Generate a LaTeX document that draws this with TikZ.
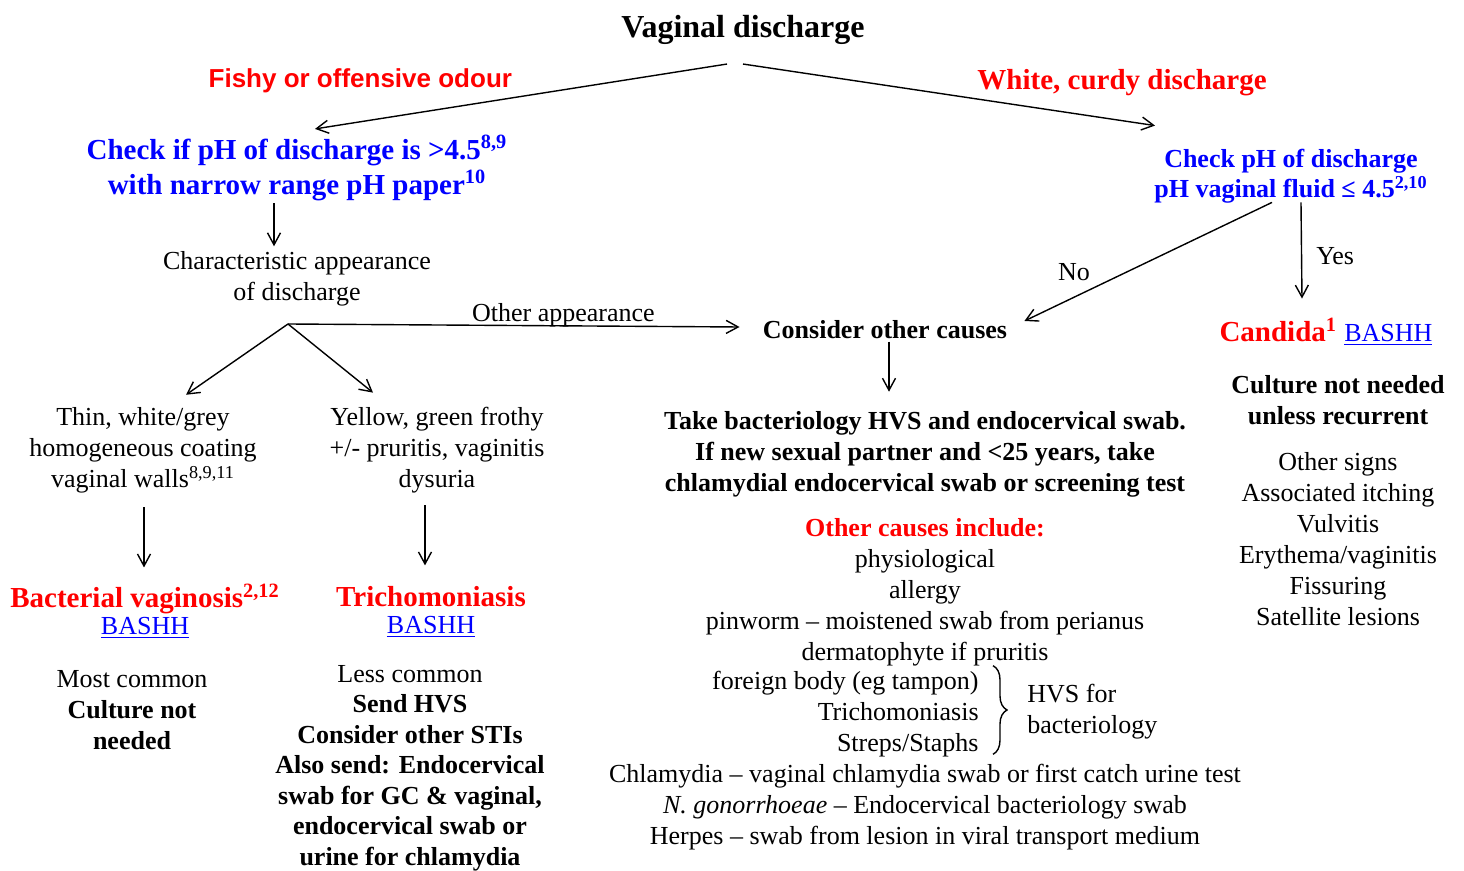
\documentclass[tikz,border=0pt]{standalone}
\usepackage{fontspec}
\setmainfont{Liberation Serif}
\newfontfamily\arialfont{Liberation Sans}
\usetikzlibrary{arrows.meta,decorations.pathreplacing}
\definecolor{hdred}{RGB}{255,0,0}
\definecolor{phblue}{RGB}{0,0,255}
\newcommand{\bashh}{{\mdseries\color{phblue}\underline{BASHH}}}
\tikzset{
	txt/.style={inner sep=0,align=center,font=\fontsize{13}{15.5}\selectfont},
	boldtxt/.style={inner sep=0,align=center,font=\fontsize{13}{15.5}\selectfont\bfseries},
	diag/.style={inner sep=0,align=center,text=hdred,font=\fontsize{14.5}{17}\selectfont\bfseries},
	phtxt/.style={inner sep=0,align=center,text=phblue,font=\fontsize{13}{15}\selectfont\bfseries},
	arr/.style={-{Straight Barb[length=6pt,width=6.5pt]},line width=0.7pt},
}
\begin{document}
\begin{tikzpicture}[x=0.5pt,y=-0.5pt]
		\useasboundingbox (0,0) rectangle (1464,871);
		% top of the chart
		\node[inner sep=0,font=\fontsize{16}{19}\selectfont\bfseries] (title) at (743,30) {Vaginal discharge};
		\node[phtxt,font=\fontsize{14.5}{17.5}\selectfont\bfseries] (phleft) at (297,168) {Check if pH of discharge is >4.5\textsuperscript{8,9}\\with narrow range pH paper\textsuperscript{10}};
		\node[phtxt] (phright) at (1291,176) {Check pH of discharge\\pH vaginal fluid ≤ 4.5\textsuperscript{2,10}};
		\draw[arr] ([shift={(-16,19)}]title.south) -- ([shift={(18,-6)}]phleft.north)
			node[pos=.89,yshift=20.5pt,inner sep=0,text=hdred,font=\arialfont\fontsize{13}{15.5}\selectfont\bfseries] (fishy) {Fishy or offensive odour};
		\draw[arr] ([shift={(0,19)}]title.south) -- ([shift={(-136,-23)}]phright.north)
			node[pos=.92,yshift=19pt,diag] (curdy) {White, curdy discharge};
		% left branch
		\node[txt] (charapp) at (297,279) {Characteristic appearance\\of discharge};
		\coordinate (fork) at (288,324);
		\node[txt] (thin) at (143,450) {Thin, white/grey\\homogeneous coating\\vaginal walls\textsuperscript{8,9,11}};
		\node[txt] (yellow) at (437,450) {Yellow, green frothy\\+/- pruritis, vaginitis\\dysuria};
		\node[diag] (bv) at (145,599) {Bacterial vaginosis\textsuperscript{2,12}};
		\node[txt] (bvlink) at (145,628) {\bashh};
		\node[diag] (tri) at (431,597) {Trichomoniasis};
		\node[txt] (trilink) at (431,627) {\bashh};
		\node[txt] (bvnote) at (132,710) {Most common\\\textbf{Culture not}\\\textbf{needed}};
		\node[boldtxt,font=\fontsize{13}{15.25}\selectfont\bfseries] (trinote) at (410,768) {{\mdseries Less common}\\Send HVS\\Consider other STIs\\Also send: Endocervical\\swab for GC \& vaginal,\\endocervical swab or\\urine for chlamydia};
		\draw[arr] ([shift={(-23,2)}]phleft.south) -- ([shift={(-23,-5)}]charapp.north);
		\draw[arr] (fork) -- ([shift={(43,-12)}]thin.north);
		\draw[arr] (fork) -- ([shift={(-64,-14)}]yellow.north);
		\draw[arr] ([shift={(1,14)}]thin.south) -- ([shift={(-1,-16)}]bv.north);
		\draw[arr] ([shift={(-12,12)}]yellow.south) -- ([shift={(-6,-21)}]tri.north);
		% middle
		\node[boldtxt] (consider) at (885,330) {Consider other causes};
		\draw[arr] (fork) -- ([shift={(-23,-3)}]consider.west)
			node[pos=.61,above=-1pt,inner sep=0,font=\fontsize{13}{15.5}\selectfont] (otherapp) {Other appearance};
		\node[boldtxt] (take) at (925,454) {Take bacteriology HVS and endocervical swab.\\If new sexual partner and <25 years, take\\chlamydial endocervical swab or screening test};
		\node[txt] (causes) at (925,592) {\textcolor{hdred}{\textbf{Other causes include:}}\\physiological\\allergy\\pinworm – moistened swab from perianus\\dermatophyte if pruritis};
		\node[txt,anchor=east,align=right] (hvsitems) at (979,714) {foreign body (eg tampon)\\Trichomoniasis\\Streps/Staphs};
		\node[txt,anchor=west,align=left] (hvsfor) at (1027,712) {HVS for\\bacteriology};
		\draw[line width=0.7pt,decorate,decoration={brace,amplitude=7pt}] ([shift={(14,-5)}]hvsitems.north east) -- ([shift={(14,-3)}]hvsitems.south east);
		\node[txt] (tests) at (925,807) {Chlamydia – vaginal chlamydia swab or first catch urine test\\\textit{N. gonorrhoeae} – Endocervical bacteriology swab\\Herpes – swab from lesion in viral transport medium};
		\draw[arr] ([shift={(4,2)}]consider.south) -- ([shift={(-36,-19)}]take.north);
		% right branch
		\node[diag] (candida) at (1326,332) {Candida\textsuperscript{1} {\fontsize{13}{15.5}\selectfont\bashh}};
		\node[boldtxt] (culture) at (1338,400) {Culture not needed\\unless recurrent};
		\node[txt] (signs) at (1338,539) {Other signs\\Associated itching\\Vulvitis\\Erythema/vaginitis\\Fissuring\\Satellite lesions};
		\draw[arr] ([shift={(-19,-1)}]phright.south) -- ([shift={(17,-9)}]consider.east)
			node[pos=.8,above=8pt,inner sep=0,font=\fontsize{13}{15.5}\selectfont] (no) {No};
		\draw[arr] ([shift={(10,-1)}]phright.south) -- ([shift={(-24,-19)}]candida.north)
			node[pos=.56,right=7pt,inner sep=0,font=\fontsize{13}{15.5}\selectfont] (yes) {Yes};
	\end{tikzpicture}
\end{document}
